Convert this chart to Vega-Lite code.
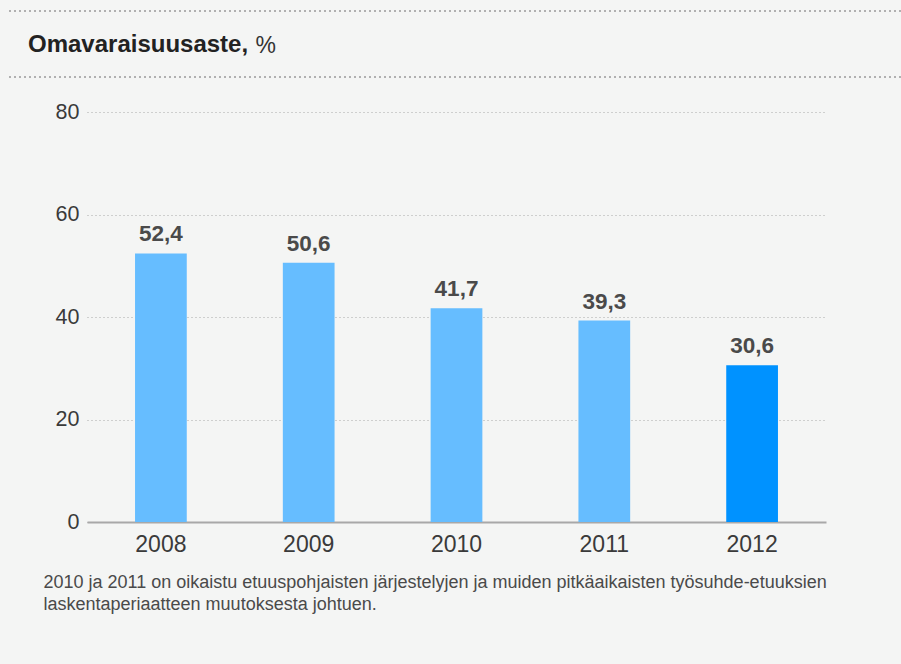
{
  "$schema": "https://vega.github.io/schema/vega-lite/v6.json",
  "background": "#f4f5f4",
  "padding": {"left": 6, "top": 10, "right": 0, "bottom": 52},
  "bounds": "flush",
  "center": true,
  "spacing": 30,
  "config": {
    "view": {"stroke": null},
    "font": "Liberation Sans",
    "locale": {"number": {"decimal": ",", "thousands": "\u00a0", "grouping": [3], "currency": ["", " €"]}}
  },
  "datasets": {
    "equity": [
      {"year": "2008", "value": 52.4},
      {"year": "2009", "value": 50.6},
      {"year": "2010", "value": 41.7},
      {"year": "2011", "value": 39.3},
      {"year": "2012", "value": 30.6}
    ],
    "topline": [{"p": 1}]
  },
  "vconcat": [
    {
      "width": 899,
      "height": 36,
      "data": {"name": "topline"},
      "mark": {"type": "rule", "color": "#b0b0b0", "strokeWidth": 2, "strokeDash": [2, 3]},
      "encoding": {
        "y": {
          "field": "p",
          "type": "quantitative",
          "scale": {"domain": [0, 1]},
          "axis": {
            "title": "%",
            "titleAngle": 0,
            "titleX": 248,
            "titleY": 41,
            "titleAlign": "left",
            "titleBaseline": "alphabetic",
            "titleFontSize": 23,
            "titleFontWeight": "normal",
            "titleColor": "#333333",
            "labels": false,
            "ticks": false,
            "domain": false,
            "grid": false
          }
        }
      }
    },
    {
      "width": 899,
      "height": 5,
      "data": {"name": "topline"},
      "title": {
        "text": "Omavaraisuusaste,",
        "anchor": "start",
        "frame": "group",
        "fontSize": 24,
        "fontWeight": "bold",
        "color": "#222222",
        "baseline": "alphabetic",
        "dx": 21,
        "offset": 0
      },
      "mark": {"type": "rule", "color": "#b0b0b0", "strokeWidth": 2, "strokeDash": [2, 3]},
      "encoding": {
        "y": {"field": "p", "type": "quantitative", "scale": {"domain": [0, 1]}, "axis": null}
      }
    },
    {
      "width": 739,
      "height": 410,
      "data": {"name": "equity"},
      "encoding": {
        "x": {
          "field": "year",
          "type": "nominal",
          "sort": null,
          "scale": {"paddingInner": 0.65, "paddingOuter": 0.325},
          "axis": {
            "labelAngle": 0,
            "labelFontSize": 23,
            "labelColor": "#3a3a3a",
            "labelPadding": 11,
            "ticks": false,
            "domain": true,
            "domainColor": "#a8a8a8",
            "domainWidth": 2,
            "title": [
              "2010 ja 2011 on oikaistu etuuspohjaisten järjestelyjen ja muiden pitkäaikaisten työsuhde-etuuksien",
              "laskentaperiaatteen muutoksesta johtuen."
            ],
            "titleX": -44,
            "titleY": 65,
            "titleAlign": "left",
            "titleAnchor": "start",
            "titleBaseline": "alphabetic",
            "titleFontSize": 18,
            "titleFontWeight": "normal",
            "titleColor": "#4a4a4a",
            "titleLineHeight": 22
          }
        },
        "y": {
          "field": "value",
          "type": "quantitative",
          "scale": {"domain": [0, 80]},
          "axis": {
            "values": [0, 20, 40, 60, 80],
            "title": null,
            "domain": false,
            "ticks": false,
            "labelFontSize": 21.5,
            "labelColor": "#3a3a3a",
            "labelPadding": 8,
            "gridColor": "#a8a8a8",
            "gridDash": [1, 3],
            "gridWidth": 1
          }
        }
      },
      "layer": [
        {
          "mark": {"type": "bar"},
          "encoding": {
            "color": {
              "condition": {"test": "datum.year == '2012'", "value": "#0092ff"},
              "value": "#66bdff"
            }
          }
        },
        {
          "mark": {"type": "text", "baseline": "alphabetic", "dy": -12, "fontSize": 22.5, "fontWeight": "bold", "color": "#4a4a4a"},
          "encoding": {
            "text": {"field": "value", "type": "quantitative", "format": ".1f"}
          }
        }
      ]
    }
  ]
}
